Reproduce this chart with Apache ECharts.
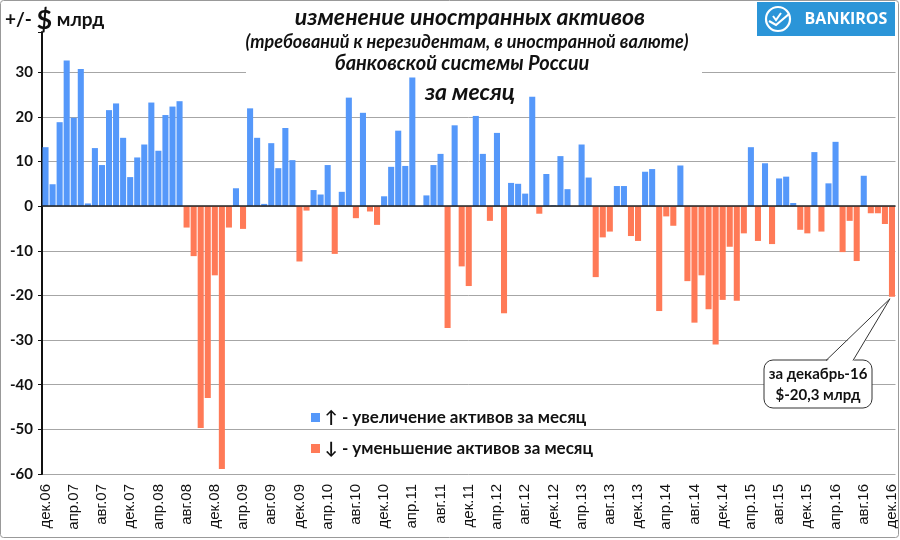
<!DOCTYPE html>
<html><head><meta charset="utf-8">
<script src="https://cdn.jsdelivr.net/npm/echarts@6/dist/echarts.min.js"></script>
<style>html,body{margin:0;padding:0;background:#fff}#c{width:900px;height:540px}</style>
</head><body><div id="c"></div>
<script>
// ---- data ----
const monthNames = ['янв','фев','мар','апр','май','июн','июл','авг','сен','окт','ноя','дек'];
const startYear = 2006;      // первый месяц: декабрь 2006
const startMonthIndex = 11;
const values = [
  13.2, 4.9, 18.8, 32.6, 19.8, 30.7, 0.6, 13.0, 9.2, 21.5, 23.0, 15.3, 6.5,   // дек.06 - дек.07
  10.9, 13.8, 23.2, 12.4, 20.4, 22.3, 23.5, -4.8, -11.2, -49.7, -43.0, -15.5, // янв.08 - дек.08
  -58.9, -4.8, 4.0, -5.1, 21.9, 15.3, 0.5, 14.1, 8.5, 17.5, 10.3, -12.4,      // янв.09 - дек.09
  -1.0, 3.6, 2.6, 9.2, -10.7, 3.2, 24.3, -2.7, 20.9, -1.2, -4.2, 2.2,         // янв.10 - дек.10
  8.8, 16.9, 9.0, 28.8, 0, 2.4, 9.2, 11.7, -27.3, 18.1, -13.5, -17.9,         // янв.11 - дек.11
  20.2, 11.7, -3.3, 16.4, -24.0, 5.2, 5.0, 2.8, 24.5, -1.7, 7.2, 0.2,         // янв.12 - дек.12
  11.2, 3.8, 0, 13.8, 6.4, -15.9, -7.0, -5.7, 4.5, 4.5, -6.7, -7.8,           // янв.13 - дек.13
  7.7, 8.3, -23.5, -2.3, -4.4, 9.1, -16.8, -26.1, -15.5, -23.1, -31.0, -21.0, // янв.14 - дек.14
  -9.1, -21.2, -6.1, 13.2, -7.8, 9.6, -8.5, 6.2, 6.6, 0.7, -5.3, -6.1,        // янв.15 - дек.15
  12.1, -5.7, 5.1, 14.4, -10.3, -3.3, -12.3, 6.8, -1.6, -1.6, -4.0, -20.3     // янв.16 - дек.16
];
const yTickLabels = [-60, -50, -40, -30, -20, -10, 0, 10, 20, 30];
const legendNames = ['↑ - увеличение активов за месяц', '↓ - уменьшение активов за месяц'];
const titleLines = ['изменение иностранных активов', '(требований к нерезидентам, в иностранной валюте)', 'банковской системы России', 'за месяц'];
const calloutLines = ['за декабрь-16', '$-20,3 млрд'];

const categories = values.map((v, i) => {
  const k = startMonthIndex + i;
  const y = startYear + Math.floor(k / 12);
  return monthNames[k % 12] + '.' + String(y % 100).padStart(2, '0');
});
const incSeries = values.map(v => v > 0 ? v : '-');
const decSeries = values.map(v => v < 0 ? v : '-');

const BLUE = '#5598FA', ORANGE = '#FF7A57';
const F = 'Lato, "Open Sans", sans-serif';

const chart = echarts.init(document.getElementById('c'), null, {renderer: 'canvas'});
const gridColors = yTickLabels.map(() => '#a6a6a6').concat(['rgba(0,0,0,0)']);

const option = {
  animation: false,
  backgroundColor: '#fff',
  grid: {left: 42, right: 4.5, top: 32, bottom: 66, containLabel: false},
  legend: {
    data: legendNames, orient: 'vertical', left: 306, top: 404, itemGap: 14,
    icon: 'rect', itemWidth: 9, itemHeight: 9,
    textStyle: {fontFamily: F, fontWeight: 'bold', fontSize: 17, color: '#111'}
  },
  xAxis: {
    type: 'category', data: categories,
    axisLine: {show: false, onZero: false},
    axisTick: {show: false},
    axisLabel: {interval: 3, rotate: 90, margin: 10, fontFamily: '"Liberation Sans", Arial, sans-serif', fontSize: 15, color: '#111'},
    splitLine: {show: false}
  },
  yAxis: {
    type: 'value', min: -60, max: 39, interval: 10,
    axisLine: {show: true, lineStyle: {color: '#111', width: 2}},
    axisTick: {show: true, length: 4, lineStyle: {color: '#111'}},
    axisLabel: {
      margin: 9, fontFamily: F, fontWeight: 'bold', fontSize: 15, color: '#111',
      formatter: v => yTickLabels.indexOf(v) >= 0 ? String(v) : ''
    },
    splitLine: {show: true, lineStyle: {color: gridColors, width: 1}}
  },
  series: [
    {name: legendNames[0], type: 'bar', data: incSeries, barGap: '-100%', barCategoryGap: '14%',
     itemStyle: {color: BLUE}, z: 3},
    {name: legendNames[1], type: 'bar', data: decSeries, barGap: '-100%', barCategoryGap: '14%',
     itemStyle: {color: ORANGE}, z: 3,
     markLine: {silent: true, symbol: ['none', 'none'], label: {show: false},
       lineStyle: {color: '#222', width: 1.5, type: 'solid'}, data: [{yAxis: 0}], z: 6}}
  ]
};
chart.setOption(option);

const last = values.length - 1;
const tip = chart.convertToPixel({xAxisIndex: 0, yAxisIndex: 0}, [last, values[last]]);
const tx = tip[0] - 2, ty = tip[1] + 2;

const graphic = [
  // white box behind the title
  {type: 'rect', shape: {x: 246, y: 36, width: 456, height: 66}, style: {fill: '#fff'}, z: 1},
  // title
  {type: 'text', x: 470, y: 18, z: 20, style: {text: titleLines[0], align: 'center', verticalAlign: 'middle', fontFamily: F, fontStyle: 'italic', fontWeight: 'bold', fontSize: 23, fill: '#111'}},
  {type: 'text', x: 467, y: 42, z: 20, style: {text: titleLines[1], align: 'center', verticalAlign: 'middle', fontFamily: F, fontStyle: 'italic', fontWeight: 'bold', fontSize: 18, fill: '#111'}},
  {type: 'text', x: 462, y: 64, z: 20, style: {text: titleLines[2], align: 'center', verticalAlign: 'middle', fontFamily: F, fontStyle: 'italic', fontWeight: 'bold', fontSize: 20, fill: '#111'}},
  {type: 'text', x: 470, y: 93, z: 20, style: {text: titleLines[3], align: 'center', verticalAlign: 'middle', fontFamily: F, fontStyle: 'italic', fontWeight: 'bold', fontSize: 23, fill: '#111'}},
  // y axis unit
  {type: 'text', x: 5, y: 20, z: 20, style: {
    text: '{a|+/- }{b|$}{a| млрд}', verticalAlign: 'middle',
    rich: {a: {fontFamily: F, fontWeight: 'bold', fontSize: 19, fill: '#111'},
           b: {fontFamily: F, fontWeight: 'bold', fontSize: 27, fill: '#111'}}}},
  // logo
  {type: 'rect', shape: {x: 757, y: 2, width: 138, height: 34}, style: {fill: '#2B95D8'}, z: 20},
  {type: 'circle', shape: {cx: 778, cy: 19, r: 12}, style: {fill: 'none', stroke: '#fff', lineWidth: 2.2}, z: 21},
  {type: 'polyline', shape: {points: [[769, 21], [776, 25], [789, 14]]}, style: {fill: 'none', stroke: '#fff', lineWidth: 2.2}, z: 21},
  {type: 'polyline', shape: {points: [[773, 16], [776, 20], [781, 13]]}, style: {fill: 'none', stroke: '#fff', lineWidth: 2}, z: 21},
  {type: 'text', x: 846, y: 19, z: 21, style: {text: 'BANKIROS', align: 'center', verticalAlign: 'middle', fontFamily: '"Open Sans", sans-serif', fontWeight: 'bold', fontSize: 16, fill: '#fff'}},
  // callout
  {type: 'rect', shape: {x: 764, y: 360, width: 108, height: 48, r: 9}, style: {fill: '#fff', stroke: '#333', lineWidth: 1}, z: 30},
  {type: 'polygon', shape: {points: [[826, 362], [tx, ty], [853, 362]]}, style: {fill: '#fff'}, z: 31},
  {type: 'polyline', shape: {points: [[826, 360.5], [tx, ty], [853, 360.5]]}, style: {fill: 'none', stroke: '#333', lineWidth: 1}, z: 32},
  {type: 'text', x: 818, y: 374, z: 33, style: {text: calloutLines[0], align: 'center', verticalAlign: 'middle', fontFamily: F, fontWeight: 'bold', fontSize: 15, fill: '#111'}},
  {type: 'text', x: 818, y: 395, z: 33, style: {text: calloutLines[1], align: 'center', verticalAlign: 'middle', fontFamily: F, fontWeight: 'bold', fontSize: 15, fill: '#111'}},
  // outer border
  {type: 'rect', shape: {x: 0.5, y: 0.5, width: 898, height: 537, r: 3}, style: {fill: 'none', stroke: '#999', lineWidth: 1}, z: 40}
];
chart.setOption({graphic: graphic});
</script>
</body></html>
